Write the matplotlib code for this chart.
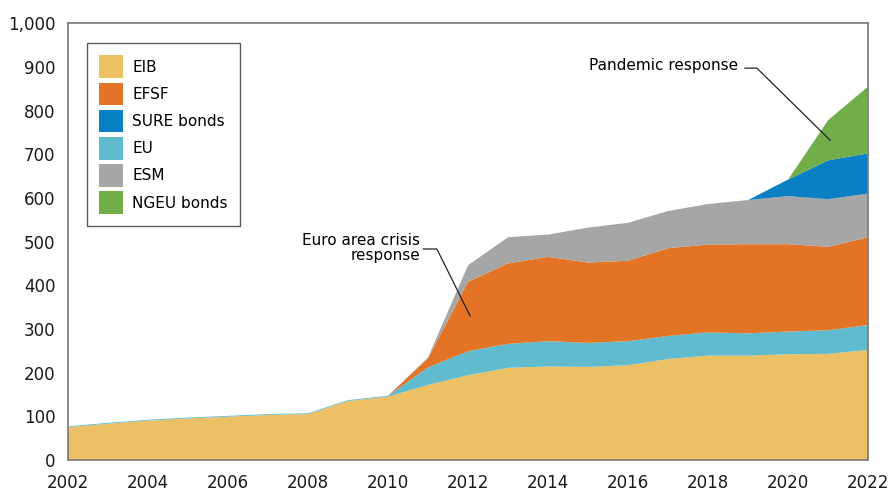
import numpy as np
import matplotlib
matplotlib.use("Agg")
import matplotlib.pyplot as plt
from matplotlib.patches import Patch

years = list(range(2002, 2023))

# stacked values, bottom to top
eib = [75, 83, 90, 95, 99, 103, 105, 135, 145, 172, 194, 211, 214, 213, 217, 231, 239, 239, 242, 243, 252]
eu = [2, 2, 2, 2, 2, 2, 2, 2, 2, 40, 55, 55, 58, 55, 55, 53, 53, 51, 52, 54, 57]
efsf = [0, 0, 0, 0, 0, 0, 0, 0, 0, 21, 159, 184, 193, 184, 184, 201, 201, 204, 200, 191, 201]
esm = [0, 0, 0, 0, 0, 0, 0, 0, 0, 2, 38, 60, 51, 80, 87, 85, 93, 101, 110, 109, 100]
sure = [0, 0, 0, 0, 0, 0, 0, 0, 0, 0, 0, 0, 0, 0, 0, 0, 0, 0, 38, 89, 92]
ngeu = [0, 0, 0, 0, 0, 0, 0, 0, 0, 0, 0, 0, 0, 0, 0, 0, 0, 0, 0, 92, 153]

colors = {
    "EIB": "#ECC065",
    "EFSF": "#E37325",
    "SURE bonds": "#0A80C4",
    "EU": "#60BBCF",
    "ESM": "#A6A6A6",
    "NGEU bonds": "#71AE4A",
}

plt.rcParams["font.family"] = ["DejaVu Sans"]

fig = plt.figure(figsize=(8.95, 4.93), dpi=100)
ax = fig.add_axes([0.076, 0.067, 0.894, 0.886])

ax.stackplot(years, eib, eu, efsf, esm, sure, ngeu,
             colors=[colors["EIB"], colors["EU"], colors["EFSF"],
                     colors["ESM"], colors["SURE bonds"], colors["NGEU bonds"]],
             linewidth=0)

ax.set_xlim(2002, 2022)
ax.set_ylim(0, 1000)
ax.set_xticks(range(2002, 2023, 2))
ax.set_yticks(range(0, 1001, 100))
ax.set_yticklabels([f"{v:,}" for v in range(0, 1001, 100)])
ax.tick_params(length=0, labelsize=12, colors="#1a1a1a")
ax.tick_params(axis="x", pad=10)
ax.tick_params(axis="y", pad=9)
for s in ax.spines.values():
    s.set_color("#808080")
    s.set_linewidth(1.3)

handles = [Patch(facecolor=colors[k], edgecolor="none", label=k) for k in colors]
leg = ax.legend(handles=handles, loc="upper left", bbox_to_anchor=(0.024, 0.954),
                borderaxespad=0, fontsize=11, frameon=True, fancybox=False,
                edgecolor="#333333", handlelength=1.55, handleheight=1.9,
                handletextpad=0.6, labelspacing=0.3, borderpad=0.8)
leg.get_frame().set_linewidth(1.0)

# annotations with leader lines
ax.text(2010.8, 485, "Euro area crisis\nresponse", ha="right", va="center",
        fontsize=11, linespacing=1.0)
ax.plot([2010.88, 2011.22, 2012.05], [483, 483, 330], color="#222222", lw=0.9)
ax.text(2018.75, 902, "Pandemic response", ha="right", va="center", fontsize=11)
ax.plot([2018.92, 2019.22, 2021.05], [897, 897, 732], color="#222222", lw=0.9)

fig.savefig("out.png", dpi=100)
